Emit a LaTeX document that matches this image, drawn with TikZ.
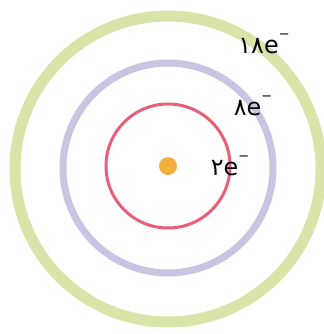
\documentclass[tikz,border=0pt]{standalone}
\usepackage{fontspec}
\setmainfont{DejaVu Sans}
\newfontfamily\arabicfont[Script=Arabic]{DejaVu Sans}
\definecolor{shellG}{RGB}{216,228,168}
\definecolor{shellP}{RGB}{200,196,226}
\definecolor{shellR}{RGB}{232,96,120}
\definecolor{nucO}{RGB}{245,176,66}
\newcommand{\elec}{e\raisebox{0.62em}{\fontsize{13}{13}\selectfont −}}
\begin{document}
\begin{tikzpicture}[x=1bp,y=-1bp,
  shell/.style={draw, circle, inner sep=0pt, fill=none},
  lbl/.style={font=\fontsize{24}{24}\selectfont, inner sep=0pt, text=black}]
\useasboundingbox (0,0) rectangle (324,334);
\fill[white] (0,0) rectangle (324,334);
\node[shell, draw=shellG, line width=11bp, minimum size=306bp] (s3) at (168,169) {};
\node[shell, draw=shellP, line width=7bp, minimum size=210bp] (s2) at (168,168) {};
\node[shell, draw=shellR, line width=3bp, minimum size=124bp] (s1) at (168,166) {};
\node[circle, fill=nucO, inner sep=0pt, minimum size=18bp] (nuc) at (168,166) {};
\node[lbl] (l3) at (264,44) {{\arabicfont ۱۸}\elec};
\node[lbl] (l2) at (253,106) {{\arabicfont ۸}\elec};
\node[lbl] (l1) at (230,166) {{\arabicfont ۲}\elec};
\end{tikzpicture}
\end{document}
